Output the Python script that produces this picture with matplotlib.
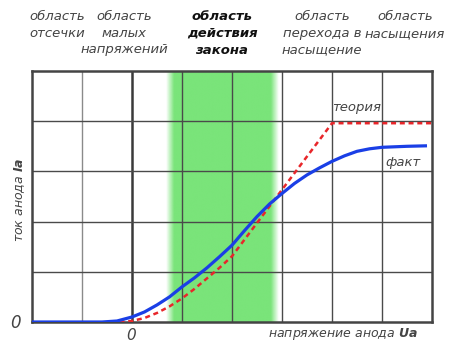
import numpy as np
import matplotlib
matplotlib.use("Agg")
import matplotlib.pyplot as plt

# ---- data ----
fact_x = [-2, -0.6, -0.3, 0, 0.25, 0.5, 0.75, 1, 1.25, 1.5, 1.75, 2, 2.25, 2.5, 2.75,
          3, 3.25, 3.5, 3.75, 4, 4.25, 4.5, 4.75, 5, 5.5, 5.9]
fact_y = [0, 0, 0.02, 0.1, 0.2, 0.34, 0.5, 0.70, 0.88, 1.08, 1.3, 1.53, 1.82, 2.1, 2.35,
          2.56, 2.76, 2.93, 3.07, 3.2, 3.31, 3.40, 3.45, 3.48, 3.50, 3.51]
theory_x = [-0.25, 0, 0.25, 0.5, 0.75, 1, 1.25, 1.5, 1.75, 2, 4, 6]
theory_y = [0, 0.02, 0.08, 0.18, 0.31, 0.47, 0.66, 0.87, 1.08, 1.31, 3.96, 3.96]
region_labels = [["область", "отсечки"],
                 ["область", "малых", "напряжений"],
                 ["область", "действия", "закона"],
                 ["область", "перехода в", "насыщение"],
                 ["область", "насыщения"]]
region_centers_px = [57, 124, 222, 322, 405]
band = (0.68, 2.94)

W, H = 460, 344
fig = plt.figure(figsize=(W/100, H/100), dpi=100)
ax = fig.add_axes([32/W, 1-322/H, 400/W, 251/H])
ax.set_xlim(-2, 6)
ax.set_ylim(0, 5)

# green band with soft edges
n = 300
xs = np.linspace(band[0], band[1], n)
fade = 0.16
alpha = np.clip(np.minimum(xs - band[0], band[1] - xs) / fade, 0, 1)
img = np.zeros((1, n, 4))
img[..., 0] = 122/255
img[..., 1] = 228/255
img[..., 2] = 122/255
img[..., 3] = alpha
ax.imshow(img, extent=(band[0], band[1], 0, 5), aspect='auto', zorder=0, interpolation='bilinear')

# grid
for gx in range(-1, 6):
    ax.axvline(gx, color='#3a3a3a' if gx == 0 else ('#8a8a8a' if gx == -1 else '#4a4a4a'),
               lw=1.8 if gx == 0 else 1.0, zorder=1)
for gy in range(1, 5):
    ax.axhline(gy, color='#4a4a4a', lw=1.0, zorder=1)

ax.plot(theory_x, theory_y, color='#e8262a', lw=1.8, ls=(0, (2, 1.5)), zorder=3)
ax.plot(fact_x, fact_y, color='#1a3fe6', lw=2.3, zorder=4, solid_capstyle='butt',
        solid_joinstyle='round')

for s in ax.spines.values():
    s.set_color('#444444')
    s.set_linewidth(1.8)
ax.set_xticks([])
ax.set_yticks([])

gray = '#444444'
fs = 9.5
fig.text(357/W, 1-108/H, "теория", fontsize=fs, style='italic', color=gray, ha='center', va='center')
fig.text(403/W, 1-163/H, "факт", fontsize=fs, style='italic', color=gray, ha='center', va='center')

# top region labels
for i, (lines, cx) in enumerate(zip(region_labels, region_centers_px)):
    bold = (i == 2)
    for j, line in enumerate(lines):
        fig.text(cx/W, 1-(17 + 16.5*j)/H, line, fontsize=fs, style='italic',
                 fontweight='bold' if bold else 'normal', color='#111111' if bold else gray,
                 ha='center', va='center')

# axis labels
fig.text(20/W, 1-200/H, "ток анода $\\mathbfit{Ia}$", rotation=90, fontsize=9, style='italic',
         color=gray, ha='center', va='center')
fig.text(343/W, 1-334/H, "напряжение анода $\\mathbfit{Ua}$", fontsize=9, style='italic',
         color=gray, ha='center', va='center')
fig.text(15/W, 1-323/H, "0", fontsize=12, style='italic', color=gray, ha='center', va='center')
fig.text(131/W, 1-335/H, "0", fontsize=11, style='italic', color=gray, ha='center', va='center')

fig.savefig("out.png", dpi=100)
